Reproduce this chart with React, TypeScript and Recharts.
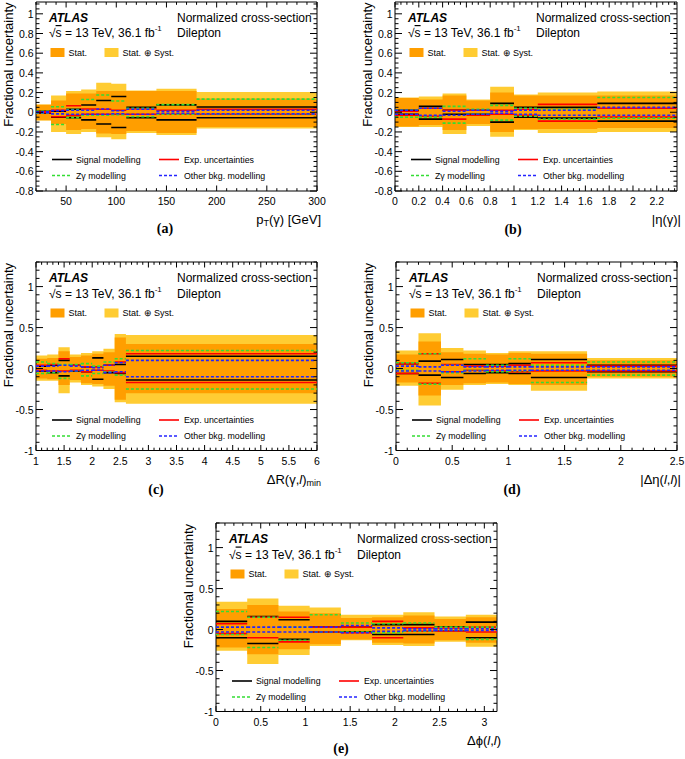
import React from "react"
import { ComposedChart, Area, Line, XAxis, YAxis, ReferenceArea } from "recharts"

type Pair = [number, number] // [up, down]

// (a) pT(gamma) [GeV]
const ptEdges = [20, 35, 50, 65, 80, 95, 110, 140, 180, 300]
const ptTotal: Pair[] = [[0.08, -0.085], [0.17, -0.2], [0.215, -0.22], [0.23, -0.2], [0.3, -0.255], [0.29, -0.275], [0.22, -0.21], [0.24, -0.23], [0.205, -0.165]]
const ptStat: Pair[] = [[0.075, -0.08], [0.12, -0.12], [0.19, -0.18], [0.19, -0.17], [0.215, -0.215], [0.215, -0.22], [0.215, -0.19], [0.215, -0.21], [0.14, -0.15]]
const ptSig: Pair[] = [[0.01, -0.01], [0.01, -0.05], [0.03, -0.055], [0.073, -0.077], [0.12, -0.12], [0.16, -0.155], [0.05, -0.056], [0.075, -0.077], [0.053, -0.056]]
const ptExp: Pair[] = [[0.005, -0.005], [0.02, -0.045], [0.066, -0.03], [0.033, -0.02], [0.03, -0.02], [0.02, -0.02], [0.035, -0.02], [0.02, -0.02], [0.03, -0.02]]
const ptZg: Pair[] = [[0.01, -0.01], [0.056, -0.125], [0.027, -0.056], [0.13, -0.03], [0.175, -0.03], [0.115, -0.025], [0.04, -0.045], [0.077, -0.02], [0.133, -0.02]]
const ptBkg: Pair[] = [[0.004, -0.004], [0.017, -0.017], [0.02, -0.02], [0.02, -0.02], [0.033, -0.02], [0.015, -0.015], [0.03, -0.02], [0.01, -0.01], [0.02, -0.016]]

// (b) |eta(gamma)|
const etaEdges = [0, 0.2, 0.4, 0.6, 0.8, 1.0, 1.2, 1.7, 2.37]
const etaTotal: Pair[] = [[0.15, -0.15], [0.16, -0.15], [0.19, -0.22], [0.13, -0.14], [0.26, -0.25], [0.18, -0.18], [0.2, -0.21], [0.21, -0.2]]
const etaStat: Pair[] = [[0.145, -0.145], [0.13, -0.13], [0.17, -0.18], [0.12, -0.12], [0.2, -0.2], [0.17, -0.17], [0.17, -0.17], [0.17, -0.16]]
const etaSig: Pair[] = [[0.02, -0.02], [0.06, -0.07], [0.02, -0.02], [0.02, -0.02], [0.09, -0.1], [0.05, -0.05], [0.05, -0.06], [0.09, -0.09]]
const etaExp: Pair[] = [[0.01, -0.03], [0.04, -0.04], [0.02, -0.07], [0.02, -0.03], [0.02, -0.02], [0.03, -0.03], [0.08, -0.09], [0.04, -0.05]]
const etaZg: Pair[] = [[0.02, -0.05], [0.04, -0.05], [0.06, -0.11], [0.03, -0.02], [0.07, -0.08], [0.04, -0.04], [0.03, -0.07], [0.15, -0.06]]
const etaBkg: Pair[] = [[0.02, -0.02], [0.04, -0.03], [0.01, -0.03], [0.02, -0.02], [0.01, -0.01], [0.02, -0.02], [0.02, -0.03], [0.05, -0.03]]

// (c) DeltaR(gamma,l)min
const drEdges = [1, 1.2, 1.4, 1.6, 1.8, 2.0, 2.2, 2.4, 2.6, 6]
const drTotal: Pair[] = [[0.16, -0.15], [0.17, -0.15], [0.26, -0.3], [0.17, -0.17], [0.19, -0.2], [0.21, -0.22], [0.24, -0.25], [0.42, -0.41], [0.41, -0.43]]
const drStat: Pair[] = [[0.12, -0.12], [0.13, -0.13], [0.21, -0.2], [0.14, -0.14], [0.16, -0.18], [0.18, -0.19], [0.2, -0.21], [0.38, -0.38], [0.3, -0.3]]
const drSig: Pair[] = [[0.03, -0.03], [0.04, -0.05], [0.1, -0.09], [0.04, -0.03], [0.02, -0.04], [0.13, -0.13], [0.04, -0.05], [0.05, -0.06], [0.15, -0.14]]
const drExp: Pair[] = [[0.04, -0.02], [0.05, -0.03], [0.12, -0.03], [0.04, -0.02], [0.02, -0.04], [0.02, -0.02], [0.04, -0.03], [0.08, -0.05], [0.18, -0.17]]
const drZg: Pair[] = [[0.08, -0.06], [0.06, -0.05], [0.05, -0.12], [0.05, -0.03], [0.06, -0.09], [0.03, -0.06], [0.08, -0.04], [0.12, -0.08], [0.22, -0.25]]
const drBkg: Pair[] = [[0.03, -0.03], [0.03, -0.03], [0.04, -0.04], [0.03, -0.03], [0.02, -0.02], [0.01, -0.02], [0.04, -0.05], [0.07, -0.04], [0.1, -0.1]]

// (d) |Delta eta(l,l)|
const detaEdges = [0, 0.2, 0.4, 0.6, 0.8, 1.0, 1.2, 1.7, 2.5]
const detaTotal: Pair[] = [[0.22, -0.21], [0.43, -0.45], [0.25, -0.26], [0.22, -0.2], [0.19, -0.19], [0.21, -0.2], [0.21, -0.27], [0.13, -0.12]]
const detaStat: Pair[] = [[0.17, -0.17], [0.33, -0.33], [0.2, -0.2], [0.18, -0.18], [0.17, -0.17], [0.19, -0.19], [0.18, -0.2], [0.1, -0.1]]
const detaSig: Pair[] = [[0.06, -0.06], [0.09, -0.08], [0.11, -0.11], [0.05, -0.06], [0.05, -0.05], [0.06, -0.06], [0.11, -0.11], [0.04, -0.04]]
const detaExp: Pair[] = [[0.06, -0.06], [0.18, -0.18], [0.05, -0.04], [0.03, -0.02], [0.03, -0.03], [0.04, -0.04], [0.07, -0.03], [0.03, -0.03]]
const detaZg: Pair[] = [[0.07, -0.02], [0.18, -0.19], [0.04, -0.05], [0.12, -0.02], [0.04, -0.04], [0.12, -0.03], [0.04, -0.17], [0.08, -0.08]]
const detaBkg: Pair[] = [[0.03, -0.03], [0.02, -0.03], [0.04, -0.04], [0.02, -0.03], [0.02, -0.02], [0.02, -0.02], [0.02, -0.02], [0.02, -0.02]]

// (e) Delta phi(l,l)
const dphiEdges = [0, 0.349, 0.698, 1.047, 1.396, 1.745, 2.094, 2.443, 2.793, 3.142]
const dphiTotal: Pair[] = [[0.34, -0.26], [0.38, -0.42], [0.29, -0.31], [0.27, -0.2], [0.18, -0.13], [0.18, -0.19], [0.21, -0.2], [0.16, -0.15], [0.18, -0.21]]
const dphiStat: Pair[] = [[0.25, -0.22], [0.3, -0.3], [0.22, -0.24], [0.2, -0.18], [0.14, -0.12], [0.15, -0.16], [0.17, -0.17], [0.13, -0.13], [0.15, -0.16]]
const dphiSig: Pair[] = [[0.1, -0.1], [0.16, -0.17], [0.12, -0.12], [0.03, -0.03], [0.03, -0.03], [0.06, -0.06], [0.06, -0.06], [0.03, -0.02], [0.09, -0.1]]
const dphiExp: Pair[] = [[0.07, -0.05], [0.15, -0.1], [0.15, -0.15], [0.03, -0.03], [0.03, -0.04], [0.1, -0.1], [0.02, -0.02], [0.02, -0.02], [0.03, -0.03]]
const dphiZg: Pair[] = [[0.22, -0.06], [0.15, -0.22], [0.03, -0.13], [0.18, -0.03], [0.08, -0.03], [0.07, -0.04], [0.08, -0.02], [0.03, -0.01], [0.03, -0.12]]
const dphiBkg: Pair[] = [[0.03, -0.03], [0.03, -0.03], [0.03, -0.03], [0.03, -0.03], [0.05, -0.04], [0.02, -0.02], [0.01, -0.01], [0.01, -0.01], [0.01, -0.01]]

// axis labels
const yMajorTop = [-0.8, -0.6, -0.4, -0.2, 0, 0.2, 0.4, 0.6, 0.8, 1]
const yMajorBottom = [-1, -0.5, 0, 0.5, 1]
const ptTicks = [50, 100, 150, 200, 250, 300]
const etaTicks = [0, 0.2, 0.4, 0.6, 0.8, 1, 1.2, 1.4, 1.6, 1.8, 2, 2.2]
const drTicks = [1, 1.5, 2, 2.5, 3, 3.5, 4, 4.5, 5, 5.5, 6]
const detaTicks = [0, 0.5, 1, 1.5, 2, 2.5]
const dphiTicks = [0, 0.5, 1, 1.5, 2, 2.5, 3]

const FONT = '"Liberation Sans", Arial, Helvetica, sans-serif'
const STAT = "#ff9e00"
const TOTAL = "#ffcc33"
const SIG = "#000000"
const EXP = "#ff0000"
const ZG = "#33dd33"
const BKG = "#2424ff"

const PL = 40
const PR = 12
const PT = 4
const PB = 20

interface PanelCfg {
  id: string
  edges: number[]
  total: Pair[]
  stat: Pair[]
  sig: Pair[]
  exp: Pair[]
  zg: Pair[]
  bkg: Pair[]
  xDomain: [number, number]
  yDomain: [number, number]
  xMajor: number[]
  xMinor: number
  yMajor: number[]
  yMinor: number
  box: { l: number; t: number; r: number; b: number }
  xTitle: React.ReactNode
  tag: { x: number; y: number }
}

function steps(a: number, b: number, s: number) {
  const out: number[] = []
  for (let v = a; v <= b + 1e-9; v += s) out.push(Math.round(v * 1000) / 1000)
  return out
}

function allTicks(major: number[], from: number, to: number, step: number) {
  const set = new Set<number>([...steps(from, to, step), ...major.map((m) => Math.round(m * 1000) / 1000)])
  return Array.from(set).filter((v) => v >= from - 1e-9 && v <= to + 1e-9).sort((a, b) => a - b)
}

const isMajor = (list: number[], v: number) => list.some((m) => Math.abs(m - v) < 1e-6)
const fmt = (v: number) => String(Math.round(v * 100) / 100)

function buildRows(c: PanelCfg) {
  const rows: any[] = []
  const n = c.edges.length - 1
  for (let i = 0; i < n; i++) {
    const v = {
      total: [c.total[i][1], c.total[i][0]],
      stat: [c.stat[i][1], c.stat[i][0]],
      sigUp: c.sig[i][0], sigDn: c.sig[i][1],
      expUp: c.exp[i][0], expDn: c.exp[i][1],
      zgUp: c.zg[i][0], zgDn: c.zg[i][1],
      bkgUp: c.bkg[i][0], bkgDn: c.bkg[i][1],
    }
    rows.push({ x: c.edges[i], ...v })
    rows.push({ x: c.edges[i + 1], ...v })
    if (i < n - 1) {
      // break the step lines between bins, the bands continue
      rows.push({
        x: c.edges[i + 1],
        total: [c.total[i + 1][1], c.total[i + 1][0]],
        stat: [c.stat[i + 1][1], c.stat[i + 1][0]],
        sigUp: null, sigDn: null, expUp: null, expDn: null,
        zgUp: null, zgDn: null, bkgUp: null, bkgDn: null,
      })
    }
  }
  return rows
}

function Panel({ c }: { c: PanelCfg }) {
  const w = c.box.r - c.box.l
  const h = c.box.b - c.box.t
  const W = w + PL + PR
  const H = h + PT + PB
  const pl = PL
  const pr = PL + w
  const pt = PT
  const pb = PT + h
  const rows = buildRows(c)
  const xTicks = allTicks(c.xMajor, c.xDomain[0], c.xDomain[1], c.xMinor)
  const yTicks = allTicks(c.yMajor, c.yDomain[0], c.yDomain[1], c.yMinor)

  const XTick = (props: any) => {
    const { x, payload } = props
    const major = isMajor(c.xMajor, payload.value)
    const len = major ? 5.5 : 2.8
    return (
      <g>
        <line x1={x} x2={x} y1={pb} y2={pb - len} stroke="#000" strokeWidth={1} />
        <line x1={x} x2={x} y1={pt} y2={pt + len} stroke="#000" strokeWidth={1} />
        {major && (
          <text x={x} y={pb + 10} textAnchor="middle" dominantBaseline="central" fontSize={10.5} fontFamily={FONT} fill="#000">
            {fmt(payload.value)}
          </text>
        )}
      </g>
    )
  }

  const YTick = (props: any) => {
    const { y, payload } = props
    const major = isMajor(c.yMajor, payload.value)
    const len = major ? 7 : 3.5
    return (
      <g>
        <line x1={pl} x2={pl + len} y1={y} y2={y} stroke="#000" strokeWidth={1} />
        <line x1={pr} x2={pr - len} y1={y} y2={y} stroke="#000" strokeWidth={1} />
        {major && (
          <text x={pl - 2.5} y={y} textAnchor="end" dominantBaseline="central" fontSize={10.5} fontFamily={FONT} fill="#000">
            {fmt(payload.value)}
          </text>
        )}
      </g>
    )
  }

  const lines: [string, string, string | undefined][] = [
    ["sigUp", SIG, undefined], ["sigDn", SIG, undefined],
    ["expUp", EXP, undefined], ["expDn", EXP, undefined],
    ["zgUp", ZG, "3 2"], ["zgDn", ZG, "3 2"],
    ["bkgUp", BKG, "3 2"], ["bkgDn", BKG, "3 2"],
  ]

  return (
    <div style={{ position: "absolute", left: c.box.l - PL, top: c.box.t - PT }}>
      <ComposedChart width={W} height={H} data={rows} margin={{ top: PT, right: PR, bottom: 0, left: 0 }}>
        <Area dataKey="total" type="linear" fill={TOTAL} fillOpacity={1} stroke="none" isAnimationActive={false} />
        <Area dataKey="stat" type="linear" fill={STAT} fillOpacity={1} stroke="none" isAnimationActive={false} />
        {lines.map(([k, col, dash]) => (
          <Line
            key={k}
            dataKey={k}
            type="linear"
            stroke={col}
            strokeWidth={1.6}
            strokeDasharray={dash}
            dot={false}
            activeDot={false}
            connectNulls={false}
            isAnimationActive={false}
          />
        ))}
        <ReferenceArea x1={c.xDomain[0]} x2={c.xDomain[1]} y1={c.yDomain[0]} y2={c.yDomain[1]} fill="none" fillOpacity={0} stroke="#000" strokeWidth={1} ifOverflow="visible" />
        <XAxis type="number" dataKey="x" domain={c.xDomain} ticks={xTicks} interval={0} allowDataOverflow height={PB} tick={XTick} tickLine={false} axisLine={false} />
        <YAxis type="number" domain={c.yDomain} ticks={yTicks} interval={0} allowDataOverflow width={PL} tick={YTick} tickLine={false} axisLine={false} />
      </ComposedChart>
    </div>
  )
}

function PanelText({ c }: { c: PanelCfg }) {
  const { l, t, r, b } = c.box
  return (
    <g fontFamily={FONT} fill="#000">
      <g transform={`translate(${l},${t})`}>
        <text x={13} y={16} fontSize={12} fontWeight="bold" fontStyle="italic" dominantBaseline="central">ATLAS</text>
        <text x={13} y={31.5} fontSize={12} dominantBaseline="central">
          √<tspan textDecoration="overline">s</tspan> = 13 TeV, 36.1 fb<tspan dy={-5} fontSize={8}>-1</tspan>
        </text>
        <text x={141} y={16} fontSize={12} dominantBaseline="central">Normalized cross-section</text>
        <text x={141} y={31.5} fontSize={12} dominantBaseline="central">Dilepton</text>

        <rect x={14.5} y={46.5} width={14} height={9} fill={STAT} />
        <text x={32.5} y={51} fontSize={9} dominantBaseline="central">Stat.</text>
        <rect x={68.5} y={46.5} width={14} height={9} fill={TOTAL} />
        <text x={86.5} y={51} fontSize={9} dominantBaseline="central">Stat.  ⊕ Syst.</text>

        <line x1={16} x2={36} y1={158} y2={158} stroke={SIG} strokeWidth={1.6} />
        <text x={40} y={158} fontSize={8.8} dominantBaseline="central">Signal modelling</text>
        <line x1={123} x2={143} y1={158} y2={158} stroke={EXP} strokeWidth={1.6} />
        <text x={148} y={158} fontSize={8.8} dominantBaseline="central">Exp. uncertainties</text>
        <line x1={16} x2={36} y1={174} y2={174} stroke={ZG} strokeWidth={1.6} strokeDasharray="3 2" />
        <text x={40} y={174} fontSize={8.8} dominantBaseline="central">Zγ modelling</text>
        <line x1={123} x2={143} y1={174} y2={174} stroke={BKG} strokeWidth={1.6} strokeDasharray="3 2" />
        <text x={148} y={174} fontSize={8.8} dominantBaseline="central">Other bkg. modelling</text>

        <text transform={`translate(-28,1) rotate(-90)`} textAnchor="end" dominantBaseline="central" fontSize={13}>
          Fractional uncertainty
        </text>
        <text x={r - l + 4} y={b - t + 28.5} textAnchor="end" dominantBaseline="central" fontSize={13}>
          {c.xTitle}
        </text>
      </g>
      <text x={c.tag.x} y={c.tag.y} textAnchor="middle" dominantBaseline="central" fontSize={14} fontWeight="bold" fontFamily='"Liberation Serif", "Times New Roman", serif'>
        ({c.id})
      </text>
    </g>
  )
}

const panels: PanelCfg[] = [
  {
    id: "a", edges: ptEdges, total: ptTotal, stat: ptStat, sig: ptSig, exp: ptExp, zg: ptZg, bkg: ptBkg,
    xDomain: [20, 300], yDomain: [-0.8, 1.12], xMajor: ptTicks, xMinor: 10, yMajor: yMajorTop, yMinor: 0.05,
    box: { l: 36, t: 1.5, r: 317, b: 190.5 },
    xTitle: (<>p<tspan dy={4} fontSize={9}>T</tspan><tspan dy={-4}>(γ) [GeV]</tspan></>),
    tag: { x: 165, y: 228 },
  },
  {
    id: "b", edges: etaEdges, total: etaTotal, stat: etaStat, sig: etaSig, exp: etaExp, zg: etaZg, bkg: etaBkg,
    xDomain: [0, 2.37], yDomain: [-0.8, 1.12], xMajor: etaTicks, xMinor: 0.05, yMajor: yMajorTop, yMinor: 0.05,
    box: { l: 395, t: 1.5, r: 677, b: 190.5 },
    xTitle: (<>|η(γ)|</>),
    tag: { x: 513, y: 229 },
  },
  {
    id: "c", edges: drEdges, total: drTotal, stat: drStat, sig: drSig, exp: drExp, zg: drZg, bkg: drBkg,
    xDomain: [1, 6], yDomain: [-1, 1.3], xMajor: drTicks, xMinor: 0.1, yMajor: yMajorBottom, yMinor: 0.1,
    box: { l: 36, t: 262, r: 317, b: 450.5 },
    xTitle: (<>ΔR(γ,<tspan fontStyle="italic">l</tspan>)<tspan dy={4} fontSize={9}>min</tspan></>),
    tag: { x: 156, y: 489 },
  },
  {
    id: "d", edges: detaEdges, total: detaTotal, stat: detaStat, sig: detaSig, exp: detaExp, zg: detaZg, bkg: detaBkg,
    xDomain: [0, 2.5], yDomain: [-1, 1.3], xMajor: detaTicks, xMinor: 0.1, yMajor: yMajorBottom, yMinor: 0.1,
    box: { l: 396, t: 262, r: 677, b: 450.5 },
    xTitle: (<>|Δη(<tspan fontStyle="italic">l</tspan>,<tspan fontStyle="italic">l</tspan>)|</>),
    tag: { x: 512, y: 489 },
  },
  {
    id: "e", edges: dphiEdges, total: dphiTotal, stat: dphiStat, sig: dphiSig, exp: dphiExp, zg: dphiZg, bkg: dphiBkg,
    xDomain: [0, 3.1416], yDomain: [-1, 1.3], xMajor: dphiTicks, xMinor: 0.1, yMajor: yMajorBottom, yMinor: 0.1,
    box: { l: 216, t: 523, r: 497, b: 711.5 },
    xTitle: (<>Δϕ(<tspan fontStyle="italic">l</tspan>,<tspan fontStyle="italic">l</tspan>)</>),
    tag: { x: 341, y: 748 },
  },
]

export default function App() {
  return (
    <div style={{ position: "absolute", left: 0, top: 0, width: 685, height: 759, background: "#fff", overflow: "hidden" }}>
      {panels.map((p) => (
        <Panel key={p.id} c={p} />
      ))}
      <svg width={685} height={759} style={{ position: "absolute", left: 0, top: 0, pointerEvents: "none" }}>
        {panels.map((p) => (
          <PanelText key={p.id} c={p} />
        ))}
      </svg>
    </div>
  )
}
